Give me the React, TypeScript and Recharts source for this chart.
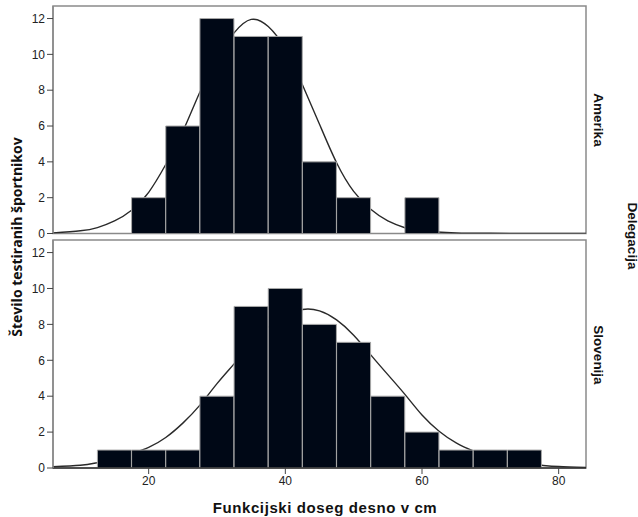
import React from "react";
import {
  ComposedChart,
  Bar,
  Line,
  XAxis,
  YAxis,
  ReferenceArea,
} from "recharts";

// Bin centres (cm), bin width 5
const binCenters = [15, 20, 25, 30, 35, 40, 45, 50, 55, 60, 65, 70, 75];
const amerikaCounts = [0, 2, 6, 12, 11, 11, 4, 2, 0, 2, 0, 0, 0];
const slovenijaCounts = [1, 1, 1, 4, 9, 10, 8, 7, 4, 2, 1, 1, 1];

// Normal curve
const amerikaCurveX = [6, 10, 12.5, 15, 17.5, 20, 22.5, 25, 27.5, 30, 32.5, 35, 37.5, 40, 42.5, 45, 47.5, 50, 52.5, 55, 57.5, 60, 65, 70, 84];
const amerikaCurveY = [0.03, 0.15, 0.33, 0.7, 1.3, 2.3, 3.85, 5.7, 7.9, 9.8, 11.2, 11.95, 11.55, 10.3, 8.3, 6.1, 3.95, 2.35, 1.35, 0.7, 0.32, 0.14, 0.03, 0.01, 0];
const slovenijaCurveX = [6, 10, 12.5, 15, 17.5, 20, 22.5, 25, 27.5, 30, 32.5, 35, 37.5, 40, 42.5, 45, 47.5, 50, 52.5, 55, 57.5, 60, 62.5, 65, 67.5, 70, 72.5, 75, 77.5, 80, 84];
const slovenijaCurveY = [0.07, 0.15, 0.3, 0.5, 0.8, 1.15, 1.7, 2.5, 3.5, 4.7, 5.8, 6.9, 7.85, 8.45, 8.83, 8.75, 8.25, 7.4, 6.3, 5.2, 4.1, 2.95, 2.05, 1.4, 0.95, 0.6, 0.38, 0.24, 0.15, 0.08, 0.03];

const xTicks = [20, 40, 60, 80];
const yTicks = [0, 2, 4, 6, 8, 10, 12];
const xDomain: [number, number] = [6, 84];
const yDomain: [number, number] = [0, 12.7];

const yLabel = "Število testiranih športnikov";
const xLabel = "Funkcijski doseg desno v cm";
const panelLabels = ["Amerika", "Slovenija"];
const facetTitle = "Delegacija";

const BAR_FILL = "#000816";
const FRAME = "#8a8a8a";
const FONT = "'Liberation Sans', Arial, sans-serif";

function Panel({
  counts,
  curveX,
  curveY,
  height,
  marginBottom,
  showTicks,
}: {
  counts: number[];
  curveX: number[];
  curveY: number[];
  height: number;
  marginBottom: number;
  showTicks: boolean;
}) {
  const data = binCenters.map((x, i) => ({ x, count: counts[i] }));
  const curve = curveX.map((x, i) => ({ x, y: curveY[i] }));
  return (
    <ComposedChart
      width={638}
      height={height}
      data={data}
      margin={{ top: 6, right: 52, bottom: marginBottom, left: 0 }}
      barCategoryGap={0}
      barGap={0}
      style={{ overflow: "visible" }}
    >
      <XAxis
        xAxisId="b"
        dataKey="x"
        type="number"
        domain={xDomain}
        allowDataOverflow
        ticks={xTicks}
        interval={0}
        height={showTicks ? 30 : 0}
        tick={showTicks ? { fontSize: 12, fill: "#222", fontFamily: FONT } : false}
        tickLine={showTicks ? { stroke: "#444" } : false}
        tickSize={6}
        tickMargin={2}
        axisLine={{ stroke: "#333", strokeWidth: 1.5 }}
      />
      <XAxis
        xAxisId="l"
        dataKey="x"
        type="number"
        domain={xDomain}
        allowDataOverflow
        hide
      />
      <YAxis
        type="number"
        domain={yDomain}
        allowDataOverflow
        ticks={yTicks}
        interval={0}
        width={53}
        tick={{ fontSize: 12, fill: "#222", fontFamily: FONT }}
        tickLine={{ stroke: "#444" }}
        tickSize={6}
        tickMargin={2}
        axisLine={{ stroke: FRAME, strokeWidth: 1.5 }}
      />
      <Line
        xAxisId="l"
        data={curve}
        dataKey="y"
        type="natural"
        dot={false}
        stroke="#2a2a2a"
        strokeWidth={1.4}
        isAnimationActive={false}
        zIndex={250}
      />
      <Bar
        xAxisId="b"
        dataKey="count"
        fill={BAR_FILL}
        stroke="#a8a8a8"
        strokeWidth={1}
        isAnimationActive={false}
      />
      <ReferenceArea
        xAxisId="b"
        x1={xDomain[0]}
        x2={xDomain[1]}
        y1={yDomain[0]}
        y2={yDomain[1]}
        fill="none"
        fillOpacity={0}
        stroke={FRAME}
        strokeWidth={1.5}
        ifOverflow="visible"
      />
    </ComposedChart>
  );
}

const rotText = (
  text: string,
  cx: number,
  cy: number,
  deg: number,
  style: React.CSSProperties
) => (
  <div
    style={{
      position: "absolute",
      left: cx,
      top: cy,
      transform: `translate(-50%, -50%) rotate(${deg}deg)`,
      whiteSpace: "nowrap",
      ...style,
    }}
  >
    {text}
  </div>
);

export default function App() {
  return (
    <div
      style={{
        position: "absolute",
        left: 0,
        top: 0,
        width: 638,
        height: 517,
        background: "#fff",
        overflow: "hidden",
      }}
    >
      <div style={{ position: "absolute", left: 0, top: 0 }}>
        <Panel
          counts={amerikaCounts}
          curveX={amerikaCurveX}
          curveY={amerikaCurveY}
          height={240}
          marginBottom={6.5}
          showTicks={false}
        />
      </div>
      <div style={{ position: "absolute", left: 0, top: 234 }}>
        <Panel
          counts={slovenijaCounts}
          curveX={slovenijaCurveX}
          curveY={slovenijaCurveY}
          height={283}
          marginBottom={19}
          showTicks={true}
        />
      </div>
      {rotText(yLabel, 16, 237, -90, {
        fontFamily: "'Open Sans', 'Noto Sans', sans-serif",
        fontWeight: 700,
        fontSize: 14,
        color: "#111",
      })}
      {rotText(panelLabels[0], 598, 120, 90, {
        fontFamily: FONT,
        fontWeight: 700,
        fontSize: 13.5,
        color: "#111",
      })}
      {rotText(panelLabels[1], 598, 355, 90, {
        fontFamily: FONT,
        fontWeight: 700,
        fontSize: 13.5,
        color: "#111",
      })}
      {rotText(facetTitle, 632, 236, 90, {
        fontFamily: FONT,
        fontWeight: 700,
        fontSize: 13.5,
        color: "#111",
      })}
      <div
        style={{
          position: "absolute",
          left: 325,
          top: 507,
          transform: "translate(-50%, -50%)",
          whiteSpace: "nowrap",
          fontFamily: FONT,
          fontWeight: 700,
          fontSize: 15,
          letterSpacing: 0.6,
          color: "#111",
        }}
      >
        {xLabel}
      </div>
    </div>
  );
}
